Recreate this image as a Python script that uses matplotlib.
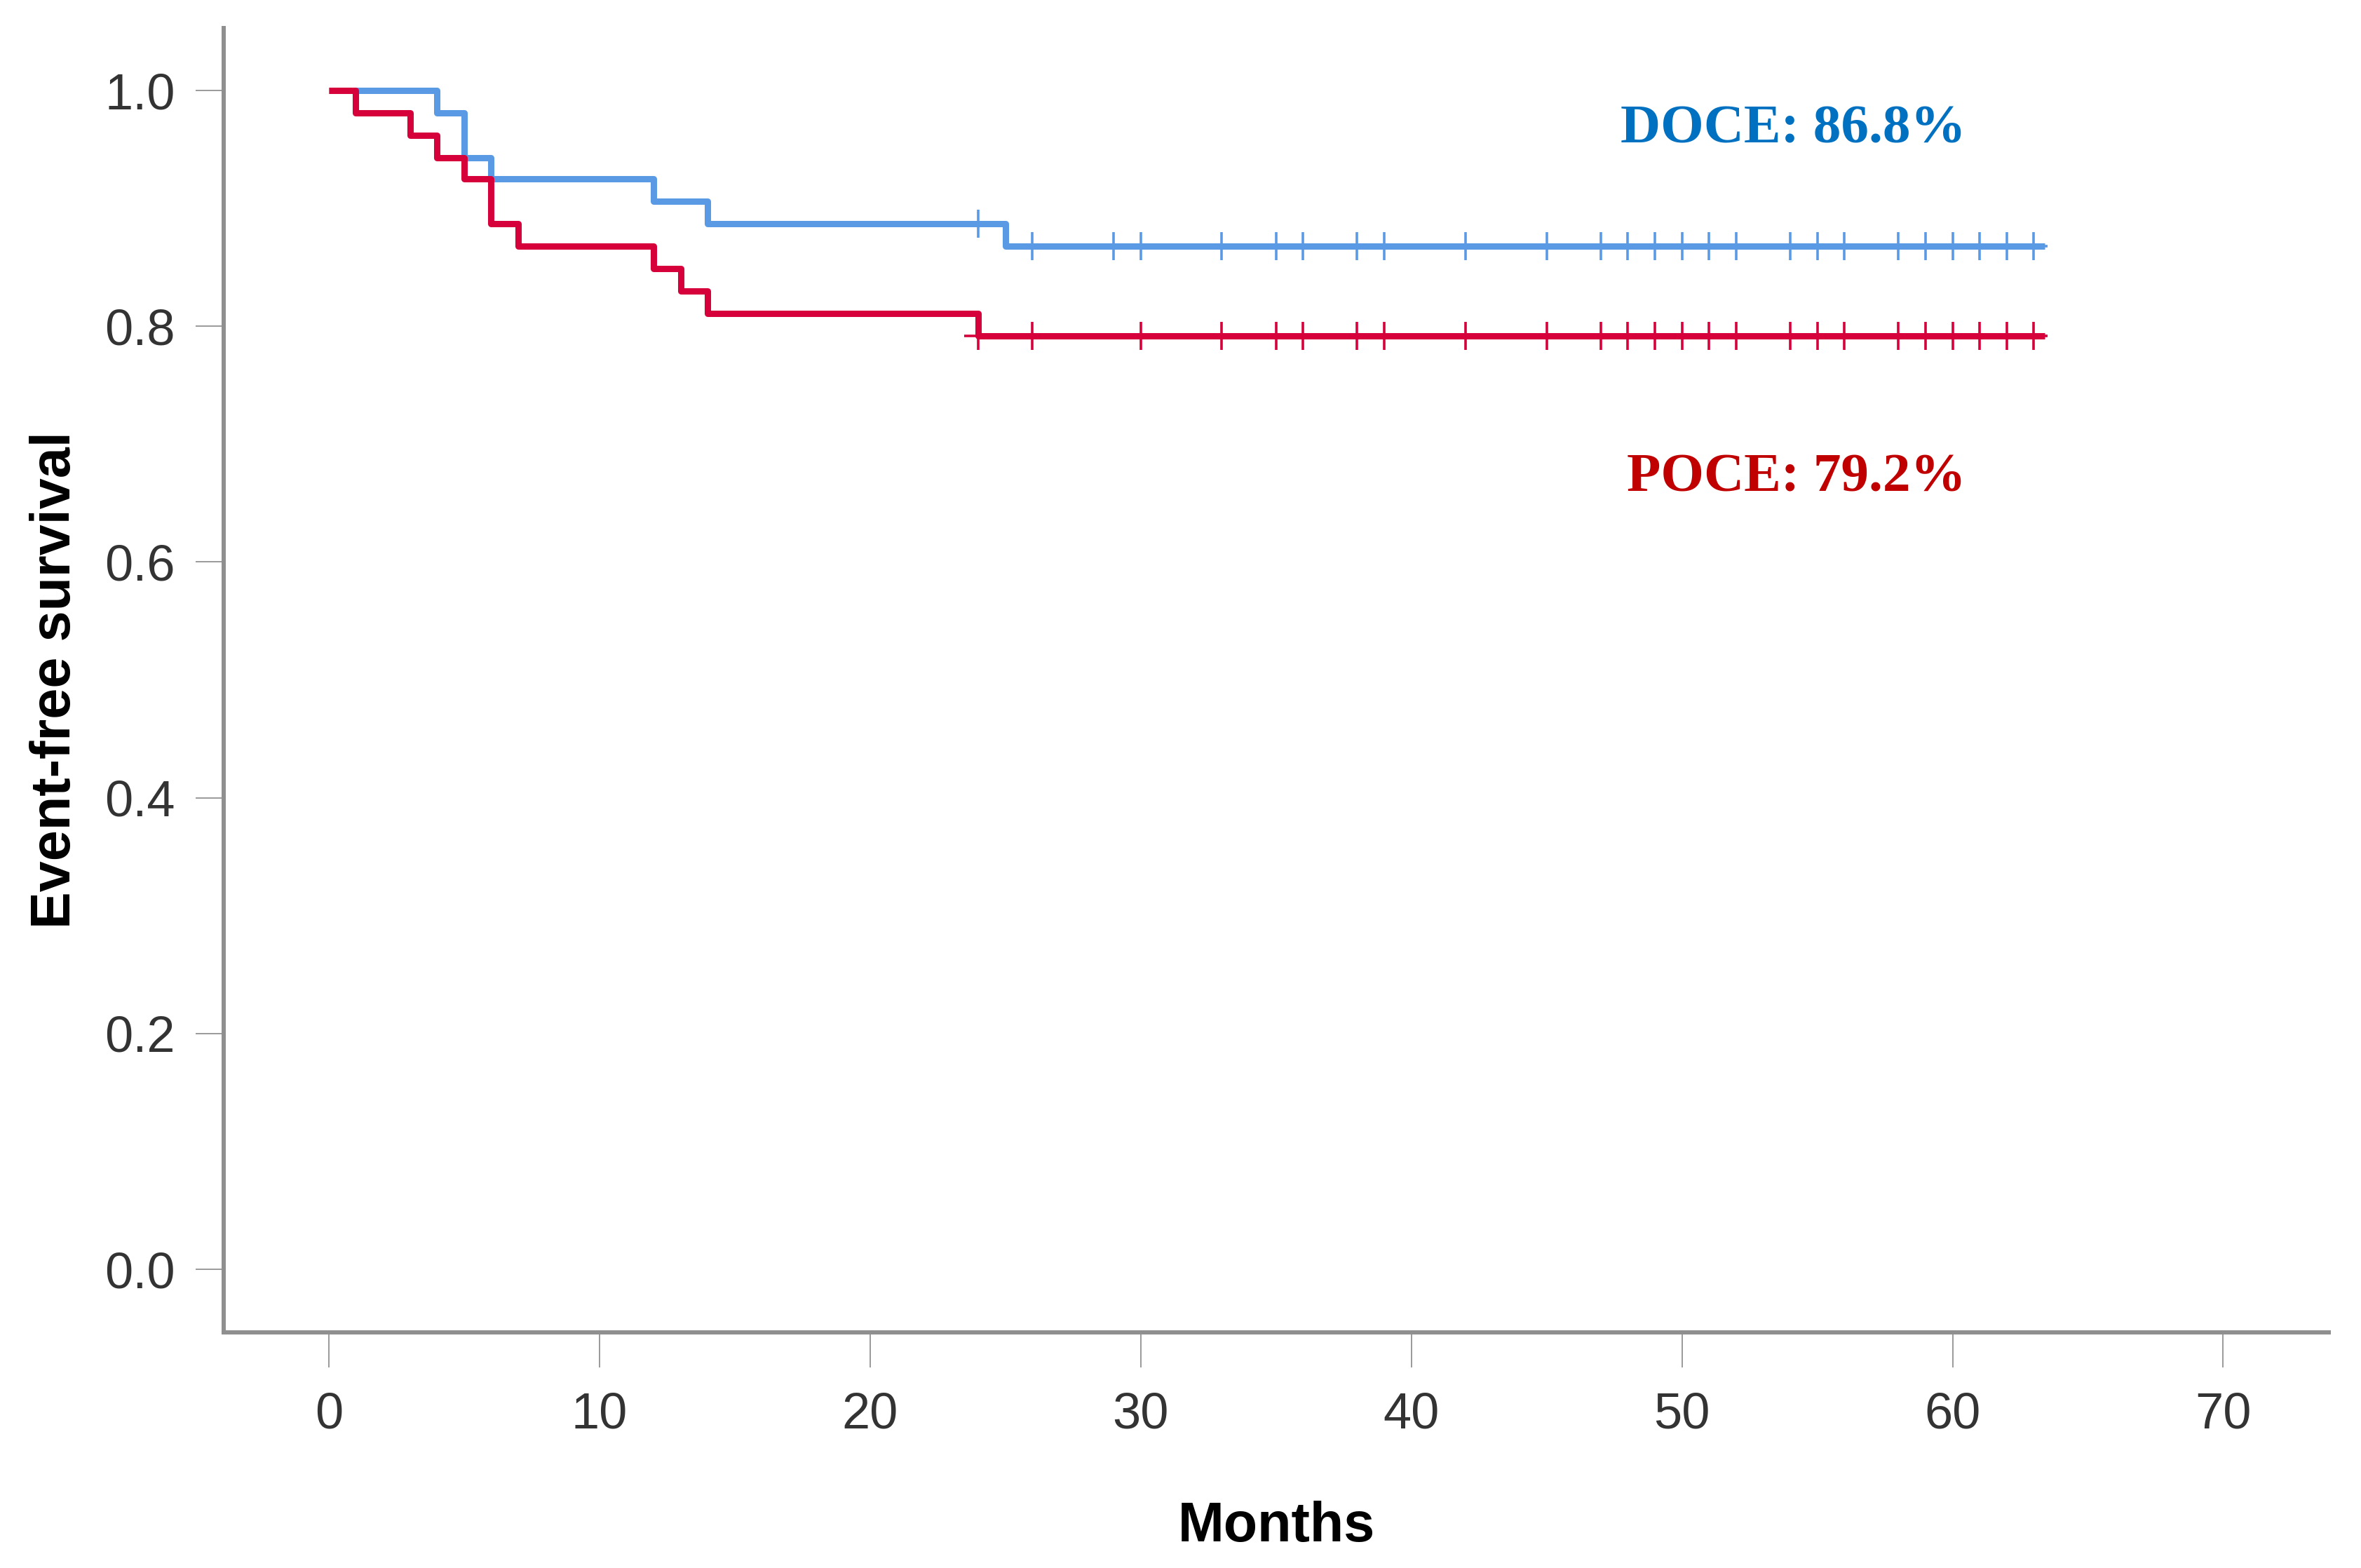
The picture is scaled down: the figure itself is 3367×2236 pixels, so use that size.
import numpy as np
import matplotlib
matplotlib.use("Agg")
import matplotlib.pyplot as plt

# ---- data ----
doce_times = [0, 4, 5, 6, 12, 14, 25, 63.4]
doce_surv = [1.0, 0.981, 0.943, 0.925, 0.906, 0.887, 0.868, 0.868]
poce_times = [0, 1, 3, 4, 5, 6, 7, 12, 13, 14, 24, 63.4]
poce_surv = [1.0, 0.981, 0.962, 0.943, 0.925, 0.887, 0.868, 0.849, 0.830, 0.811, 0.792, 0.792]
doce_censor = [24, 26, 29, 30, 33, 35, 36, 38, 39, 42, 45, 47, 48, 49, 50, 51, 52,
               54, 55, 56, 58, 59, 60, 61, 62, 63]
poce_censor = [24, 26, 30, 33, 35, 36, 38, 39, 42, 45, 47, 48, 49, 50, 51, 52,
               54, 55, 56, 58, 59, 60, 61, 62, 63]
x_ticks = [0, 10, 20, 30, 40, 50, 60, 70]
y_ticks = [0.0, 0.2, 0.4, 0.6, 0.8, 1.0]
doce_label = "DOCE: 86.8%"
poce_label = "POCE: 79.2%"

BLUE = "#5a9ae4"
RED = "#d6003a"
SANS = ["Liberation Sans", "DejaVu Sans"]

fig = plt.figure(figsize=(33.67, 22.36), dpi=100)
ax = fig.add_axes([319 / 3367, 1 - 1900 / 2236, (3321 - 319) / 3367, (1900 - 40) / 2236])
ax.set_xlim(-3.88, 73.9)
ax.set_ylim(-0.0535, 1.053)


def level_at(times, surv, t):
    i = np.searchsorted(times, t, side="right") - 1
    return surv[i]


ax.step(doce_times, doce_surv, where="post", color=BLUE, lw=6.5, zorder=3,
        solid_capstyle="butt")
ax.step(poce_times, poce_surv, where="post", color=RED, lw=6.5, zorder=4,
        solid_capstyle="butt")
ax.plot(doce_censor, [level_at(doce_times, doce_surv, t) for t in doce_censor],
        ls="none", marker="+", ms=29, mew=2.6, color=BLUE, zorder=3)
ax.plot(poce_censor, [level_at(poce_times, poce_surv, t) for t in poce_censor],
        ls="none", marker="+", ms=29, mew=2.6, color=RED, zorder=4)

ax.text(60.5, 0.956, doce_label, color="#0070C0", fontsize=57, fontweight="bold",
        family=["Liberation Serif", "DejaVu Serif"], ha="right", va="baseline")
ax.text(60.5, 0.660, poce_label, color="#C00000", fontsize=57, fontweight="bold",
        family=["Liberation Serif", "DejaVu Serif"], ha="right", va="baseline")

for s in ["top", "right"]:
    ax.spines[s].set_visible(False)
for s in ["left", "bottom"]:
    ax.spines[s].set_color("#8f8f8f")
    ax.spines[s].set_linewidth(4.3)

ax.set_xticks(x_ticks)
ax.set_xticklabels([str(v) for v in x_ticks])
ax.set_yticks(y_ticks)
ax.set_yticklabels([f"{v:.1f}" for v in y_ticks])
ax.tick_params(axis="x", length=36, width=1.4, color="#9a9a9a", pad=25,
               labelsize=52, labelcolor="#333333")
ax.tick_params(axis="y", length=29, width=1.4, color="#9a9a9a", pad=21,
               labelsize=52, labelcolor="#333333")
for lab in ax.get_xticklabels() + ax.get_yticklabels():
    lab.set_family(SANS)

fig.text(1820 / 3367, 1 - 2198 / 2236, "Months", ha="center", va="baseline",
         fontsize=57, fontweight="bold", family=SANS, color="black")
fig.text(80 / 3367, 1 - 970 / 2236, "Event-free survival", ha="center", va="center",
         rotation=90, fontsize=57, fontweight="bold", family=SANS, color="black")

fig.savefig("out.png", dpi=100, facecolor="white")
